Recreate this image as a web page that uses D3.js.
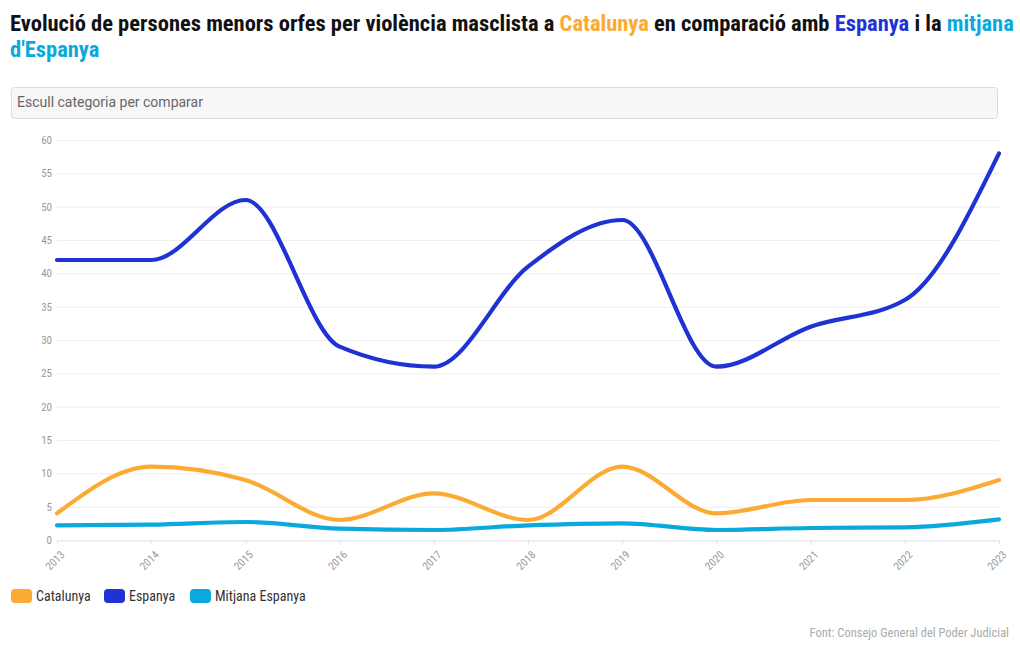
<!DOCTYPE html>
<html><head><meta charset="utf-8">
<script src="https://cdn.jsdelivr.net/npm/d3@7"></script>
<style>
body{margin:0;background:#fff;}
svg{display:block;}
</style></head>
<body>
<svg id="c" width="1020" height="650"></svg>
<script>
const years = [2013,2014,2015,2016,2017,2018,2019,2020,2021,2022,2023];
const catalunya = [4,11,9,3,7,3,11,4,6,6,9];
const espanya = [42,42,51,29,26,41,48,26,32,36,58];
const mitjana = [2.2,2.3,2.7,1.7,1.5,2.2,2.5,1.5,1.8,1.9,3.1];
const yTicks = [0,5,10,15,20,25,30,35,40,45,50,55,60];
const seriesNames = ["Catalunya","Espanya","Mitjana Espanya"];
const seriesColors = ["#fbab33","#1f33d4","#0aa9dd"];

const cond = "'Roboto Condensed','Liberation Sans Narrow','DejaVu Sans Condensed',sans-serif";
const svg = d3.select("#c");

// Title
const t = svg.append("text").attr("x",10).attr("y",31)
  .style("font-family",cond).style("font-weight","bold").style("font-size","22.5px").attr("fill","#111");
t.append("tspan").text("Evolució de persones menors orfes per violència masclista a ");
t.append("tspan").attr("fill",seriesColors[0]).text("Catalunya");
t.append("tspan").text(" en comparació amb ");
t.append("tspan").attr("fill",seriesColors[1]).text("Espanya");
t.append("tspan").text(" i la ");
t.append("tspan").attr("fill",seriesColors[2]).text("mitjana");
svg.append("text").attr("x",10).attr("y",57)
  .style("font-family",cond).style("font-weight","bold").style("font-size","22.5px")
  .attr("fill",seriesColors[2]).text("d'Espanya");

// Dropdown
svg.append("rect").attr("x",11.5).attr("y",87.5).attr("width",986).attr("height",31).attr("rx",3)
  .attr("fill","#f7f7f7").attr("stroke","#dcdcdc");
svg.append("text").attr("x",17).attr("y",107).style("font-family","Roboto,sans-serif").style("font-size","14px")
  .attr("fill","#666").text("Escull categoria per comparar");

const x = d3.scalePoint().domain(years).range([57,999]);
const y = d3.scaleLinear().domain([0,60]).range([540,140]);

// grid
const g = svg.append("g");
g.selectAll("line.grid").data(yTicks).join("line")
  .attr("x1",57).attr("x2",999).attr("y1",d=>y(d)+0.5).attr("y2",d=>y(d)+0.5)
  .attr("stroke","#eeeeee").attr("stroke-width",1);

// y axis
const yAxis = svg.append("g").attr("transform","translate(57,0)")
  .call(d3.axisLeft(y).tickValues(yTicks).tickSize(0).tickPadding(5));
yAxis.select(".domain").remove();
yAxis.selectAll("text").style("font-family",cond).style("font-size","11px").attr("fill","#999");

// x axis
const xAxis = svg.append("g").attr("transform","translate(0,540.5)")
  .call(d3.axisBottom(x).tickSize(4).tickSizeOuter(0));
xAxis.select(".domain").attr("stroke","#e4e4ee");
xAxis.selectAll(".tick line").attr("stroke","#e4e4ee");
xAxis.selectAll("text").style("font-family",cond).style("font-size","11px").attr("fill","#999")
  .attr("text-anchor","end").attr("dx","0").attr("dy","0")
  .attr("transform","translate(3,10) rotate(-45)");

// lines
const data = [catalunya, espanya, mitjana];
const line = d3.line().x((d,i)=>x(years[i])).y(d=>y(d)).curve(d3.curveMonotoneX);
[2,0,1].forEach(k=>{
  svg.append("path").datum(data[k]).attr("d",line).attr("fill","none")
    .attr("stroke",seriesColors[k]).attr("stroke-width",4.2).attr("stroke-linecap","round");
});

// legend
const legX = [11,104,190];
seriesNames.forEach((n,i)=>{
  svg.append("rect").attr("x",legX[i]).attr("y",589).attr("width",21).attr("height",14).attr("rx",4)
    .attr("fill",seriesColors[i]);
  svg.append("text").attr("x",legX[i]+25).attr("y",601).style("font-family",cond).style("font-size","14px")
    .attr("fill","#333").text(n);
});

// source
svg.append("text").attr("x",1009).attr("y",637).attr("text-anchor","end")
  .style("font-family",cond).style("font-size","12.5px").attr("fill","#aaa")
  .text("Font: Consejo General del Poder Judicial");
</script>
</body></html>
